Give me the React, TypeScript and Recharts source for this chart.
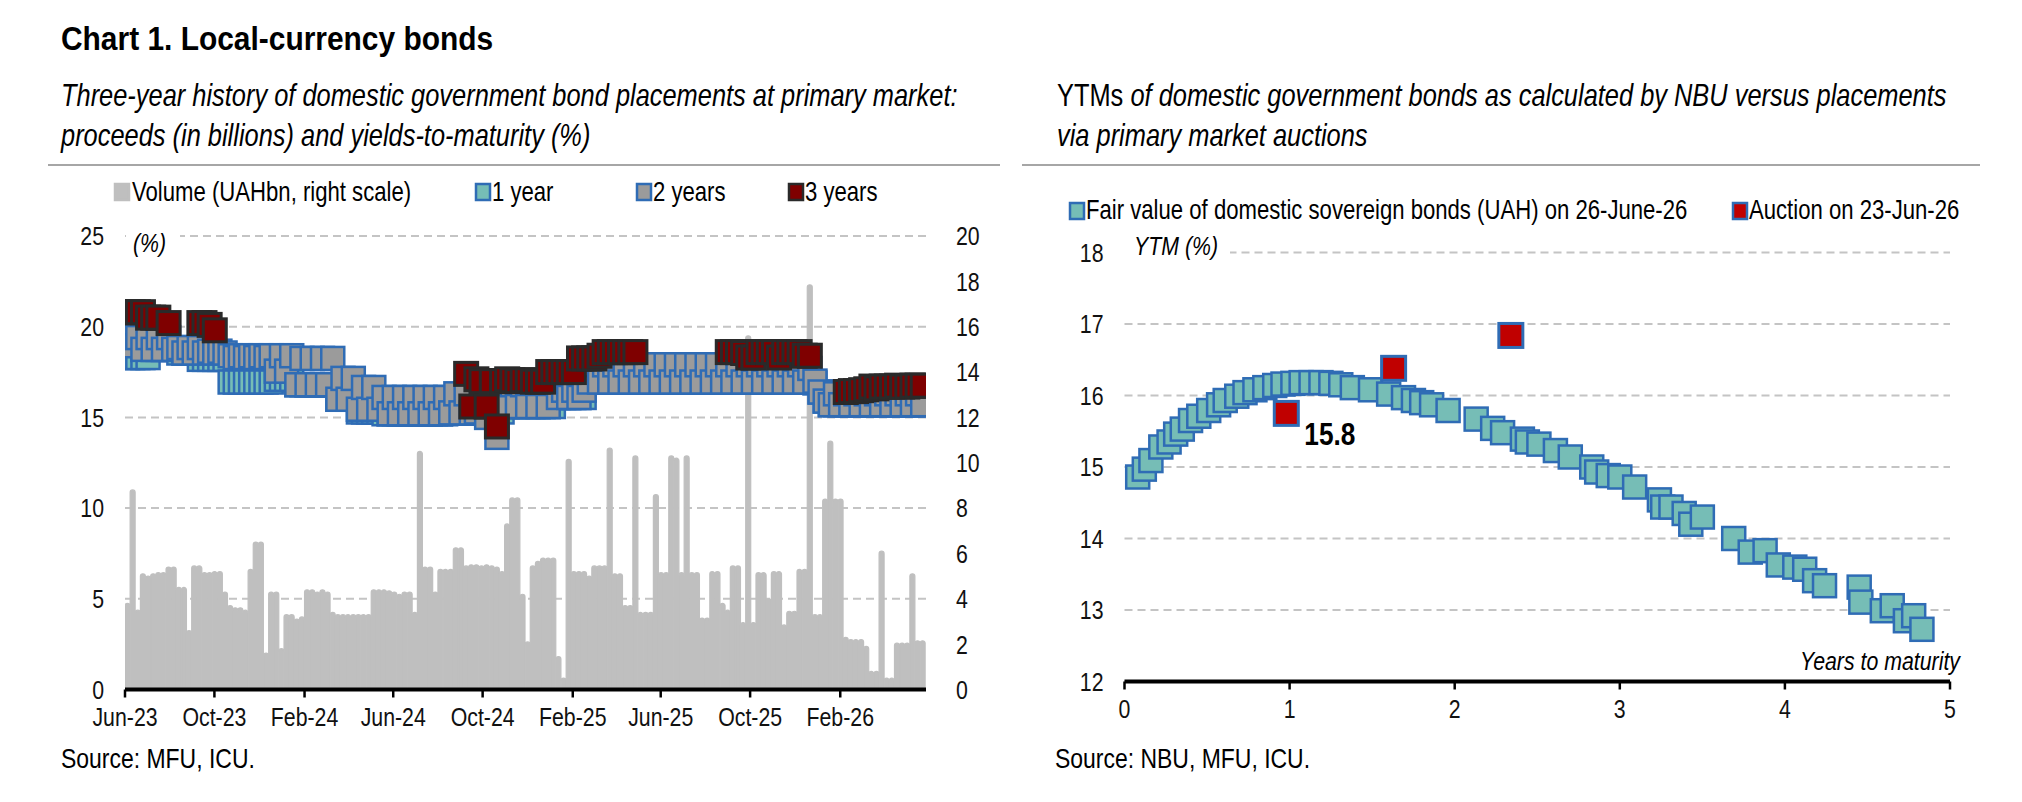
import React from "react";
import { ComposedChart, ScatterChart, Bar, Scatter, XAxis, YAxis, CartesianGrid } from "recharts";

const FONT = "'Liberation Sans', Arial, sans-serif";
const SX = 0.82;

const TEAL = "#76BDB6";
const BLUE = "#2F6CB5";
const GRAY2 = "#9B9B9B";
const DARKRED = "#7F0000";
const DARKBORDER = "#2A2A2A";
const RED = "#C00000";
const VOLGRAY = "#BFBFBF";
const GRID = "#C4C4C4";

// ---------- Left chart: weekly auction history ----------
const axisStart = "2023-06-01";
const axisEnd = "2026-05-29";
const firstWeek = "2023-06-01";
const monthTicks = ["2023-06-01", "2023-10-01", "2024-02-01", "2024-06-01", "2024-10-01", "2025-02-01", "2025-06-01", "2025-10-01", "2026-02-01"];
const monthTickLabels = ["Jun-23", "Oct-23", "Feb-24", "Jun-24", "Oct-24", "Feb-25", "Jun-25", "Oct-25", "Feb-26"];
const leftYTicks = [0, 5, 10, 15, 20, 25];
const rightYTicks = [0, 2, 4, 6, 8, 10, 12, 14, 16, 18, 20];

const volumeUAHbn = [
  3.8, 8.8, 3.5, 5.1, 5.0, 5.1, 5.15, 5.15, 5.4, 5.4,
  4.5, 4.5, 2.6, 5.45, 5.45, 5.15, 5.15, 5.2, 5.2, 4.3,
  3.7, 3.6, 3.6, 3.5, 5.3, 6.5, 6.5, 1.6, 4.3, 4.3,
  1.8, 3.3, 3.3, 3.1, 3.2, 4.4, 4.4, 4.3, 4.4, 4.3,
  3.4, 3.3, 3.3, 3.3, 3.3, 3.3, 3.3, 3.3, 4.4, 4.4,
  4.4, 4.35, 4.3, 4.2, 4.3, 4.3, 3.4, 10.5, 5.4, 5.4,
  4.3, 5.3, 5.3, 5.3, 6.25, 6.25, 5.45, 5.5, 5.5, 5.45,
  5.5, 5.45, 5.4, 5.2, 7.3, 8.45, 8.45, 4.2, 2.1, 5.45,
  5.65, 5.8, 5.8, 5.8, 1.45, 0.5, 10.15, 5.2, 5.2, 5.2,
  5.0, 5.45, 5.45, 5.45, 10.65, 5.1, 5.1, 3.7, 3.7, 10.3,
  3.4, 3.4, 3.4, 8.6, 5.15, 5.15, 10.3, 10.2, 5.15, 10.3,
  5.15, 5.15, 3.15, 3.15, 5.2, 5.2, 3.8, 3.5, 5.45, 5.45,
  2.95, 15.6, 2.95, 5.15, 5.15, 4.0, 5.2, 5.2, 2.85, 3.45,
  3.45, 5.3, 5.3, 17.85, 3.3, 3.3, 8.4, 10.95, 8.4, 8.4,
  2.3, 2.2, 2.2, 2.2, 1.9, 0.8, 0.8, 6.1, 0.5, 0.5,
  2.05, 2.05, 2.05, 5.1, 2.15, 2.15,
];

const yield1y = [
  18.3, 18.3, 18.3, 18.3, 18.3, 18.75, 18.75, 18.75, 18.75, 18.75,
  18.55, 18.55, 18.55, 18.55, 18.2, 18.2, 18.2, 18.2, 18.2, 18.2,
  16.95, 16.95, 16.95, 16.95, 16.95, 16.95, 16.95, 16.95, 16.95, 17.1,
  17.1, 17.1, 17.1, 16.8, 16.8, 16.8, 16.8, 16.8, 16.8, 16.8,
  16.8, 16.0, 16.0, 16.0, 16.0, 15.3, 15.3, 15.3, 15.3, 15.3,
  15.2, 15.2, 15.2, 15.2, 15.2, 15.2, 15.2, 15.2, 15.2, 15.2,
  15.2, 15.2, 15.2, 15.25, 15.25, 15.25, 15.25, 15.25, 15.3, 15.3,
  15.3, 15.3, 15.3, 15.3, 15.6, 15.6, 15.6, 15.6, 15.6, 15.6,
  15.6, 15.6, 15.6, 15.6, 16.1, 16.1, 16.1, 16.1, 16.1, 16.1,
  16.95, 16.95, 16.95, 16.95, 16.95, 16.95, 16.95, 16.95, 16.95, 16.95,
  16.95, 16.95, 16.95, 16.95, 16.95, 16.95, 16.95, 16.95, 16.95, 16.95,
  16.95, 16.95, 16.95, 16.95, 16.95, 16.95, 16.95, 16.95, 16.95, 16.95,
  16.95, 16.95, 16.95, 16.95, 16.95, 16.95, 16.95, 16.95, 16.95, 16.95,
  16.95, 16.95, 16.95, 16.95, 16.9, 16.4, 15.9, 15.7, 15.7, 15.7,
  15.7, 15.7, 15.7, 15.7, 15.7, 15.7, 15.7, 15.7, 15.7, 15.7,
  15.7, 15.7, 15.7, 15.7, 15.7, 15.7,
];

const yield2y = [
  19.4, 18.95, 19.4, 18.75, 19.4, 18.75, 19.4, 18.75, 19.4, 18.75,
  18.85, 18.55, 18.85, 18.55, 18.85, 18.55, 18.65, 18.55, 18.65, 18.55,
  18.4, 18.3, 18.4, 18.3, 18.4, 18.3, 18.4, 18.3, 18.4, 17.55,
  18.4, 17.55, 18.4, 16.8, 18.25, 16.8, 18.25, 16.8, 18.25, 16.8,
  18.25, 16.0, 17.15, 16.0, 17.15, 15.45, 16.65, 15.45, 16.65, 15.45,
  16.1, 15.2, 16.1, 15.2, 16.1, 15.2, 16.1, 15.2, 16.1, 15.2,
  16.1, 15.2, 16.1, 15.25, 16.3, 15.25, 16.3, 15.25, 15.3, 16.3,
  15.0, 16.2, 13.9, 16.2, 15.6, 16.8, 15.6, 16.8, 15.6, 17.0,
  15.6, 17.0, 15.6, 17.0, 16.1, 16.5, 16.1, 16.5, 16.1, 16.5,
  16.95, 17.9, 16.95, 17.9, 16.95, 17.9, 16.95, 17.9, 16.95, 17.9,
  16.95, 17.9, 16.95, 17.9, 16.95, 17.9, 16.95, 17.9, 16.95, 17.9,
  16.95, 17.9, 16.95, 17.9, 16.95, 17.9, 16.95, 17.9, 16.95, 17.9,
  16.95, 17.9, 16.95, 17.9, 16.95, 17.9, 16.95, 17.9, 16.95, 17.9,
  16.95, 17.9, 16.95, 17.7, 17.0, 16.4, 15.9, 15.7, 16.3, 15.7,
  16.3, 15.7, 16.3, 15.7, 16.3, 15.7, 16.3, 15.7, 16.3, 15.7,
  16.3, 15.7, 16.3, 15.7, 16.3, 15.7,
];

const yield3y = [
  20.8, 20.8, 20.8, 20.8, 20.5, 20.5, 20.5, null, 20.2, null,
  null, null, null, null, 20.2, 20.2, 20.1, 19.8, null, null,
  null, null, null, null, null, null, null, null, null, null,
  null, null, null, null, null, null, null, null, null, null,
  null, null, null, null, null, null, null, null, null, null,
  null, null, null, null, null, null, null, null, null, null,
  null, null, null, null, null, null, 17.4, 15.6, 17.1, 17.0,
  15.6, 17.0, 14.5, 17.0, 17.1, 17.05, 17.0, 17.05, 17.05, 16.97,
  16.97, 16.97, 17.5, 17.5, 17.5, 17.5, 17.5, 17.5, 18.25, 18.25,
  18.25, 18.25, 18.4, 18.6, 18.6, 18.6, 18.6, 18.6, 18.6, 18.6,
  null, null, null, null, null, null, null, null, null, null,
  null, null, null, null, null, null, null, 18.6, 18.6, 18.6,
  18.55, 18.3, 18.3, 18.6, 18.6, 18.6, 18.6, 18.3, 18.6, 18.6,
  18.6, 18.6, 18.4, 18.4, null, null, null, null, null, null,
  16.4, 16.45, 16.45, 16.5, 16.55, 16.7, 16.6, 16.7, 16.7, 16.7,
  16.75, 16.7, 16.7, 16.75, 16.75, 16.75,
];

// ---------- Right chart: yield curve ----------
const fairYears = [
  0.08, 0.12, 0.16, 0.22, 0.27, 0.31, 0.35, 0.40, 0.45, 0.51, 0.57, 0.61, 0.68, 0.73, 0.79, 0.85, 0.91, 0.96,
  1.02, 1.07, 1.13, 1.19, 1.25, 1.31, 1.38, 1.49, 1.60, 1.69, 1.75, 1.80, 1.86, 1.96, 2.13, 2.23, 2.29, 2.41,
  2.44, 2.51, 2.61, 2.70, 2.83, 2.86, 2.93, 3.00, 3.09, 3.24, 3.26, 3.31, 3.39, 3.43, 3.50, 3.69, 3.79, 3.88,
  3.96, 4.06, 4.12, 4.18, 4.24, 4.45, 4.46, 4.59, 4.65, 4.73, 4.78, 4.83,
];
const fairYtm = [
  14.86, 14.97, 15.09, 15.28, 15.35, 15.46, 15.53, 15.65, 15.71, 15.79, 15.87, 15.93, 15.99, 16.04, 16.08, 16.11, 16.14, 16.16,
  16.17, 16.18, 16.18, 16.18, 16.17, 16.15, 16.11, 16.08, 16.02, 15.97, 15.93, 15.90, 15.87, 15.79, 15.67, 15.54, 15.48, 15.39,
  15.35, 15.32, 15.23, 15.14, 15.00, 14.93, 14.88, 14.86, 14.72, 14.54, 14.44, 14.44, 14.35, 14.20, 14.30, 14.00, 13.81, 13.83,
  13.63, 13.60, 13.57, 13.41, 13.34, 13.32, 13.11, 12.99, 13.06, 12.85, 12.92, 12.73,
];
const auctionYears = [0.98, 1.63, 2.34];
const auctionYtm = [15.75, 16.38, 16.84];
const auctionLabels = ["15.8", "", ""];
const maturityTicks = [0, 1, 2, 3, 4, 5];
const ytmTicks = [12, 13, 14, 15, 16, 17, 18];

// ---------- helpers ----------
const DAY = 86400000;
const dayOf = (s: string) => (Date.parse(s) - Date.parse(axisStart)) / DAY;
const firstWeekDay = dayOf(firstWeek);
const weekCenter = (i: number) => firstWeekDay + 7 * i + 3.5;
const tickDays = monthTicks.map(dayOf);
const endDay = dayOf(axisEnd);

const volumeRows = volumeUAHbn.map((v, i) => ({ day: weekCenter(i), vol: v }));
const seriesRows = (arr: (number | null)[]) =>
  arr.map((v, i) => ({ day: weekCenter(i), y: v })).filter((d) => d.y !== null && d.y !== undefined);
const rows1y = seriesRows(yield1y);
const rows2y = seriesRows(yield2y);
const rows3y = seriesRows(yield3y);

const fairRows = fairYears.map((x, i) => ({ x, y: fairYtm[i] }));
const auctionRows = auctionYears.map((x, i) => ({ x, y: auctionYtm[i], label: auctionLabels[i] }));

// narrow (condensed) text: Liberation Sans squeezed horizontally
const NT = ({ x, y, size, bold, italic, anchor, sx = SX, children }: any) => (
  <text
    transform={`translate(${x} ${y}) scale(${sx} 1)`}
    fontFamily={FONT}
    fontSize={size}
    fontWeight={bold ? "bold" : "normal"}
    fontStyle={italic ? "italic" : "normal"}
    textAnchor={anchor || "start"}
    fill="#000"
  >
    {children}
  </text>
);

const squareShape = (fill: string, stroke: string, side: number, sw: number) => (props: any) => {
  const { cx, cy, payload } = props;
  if (!Number.isFinite(cx) || !Number.isFinite(cy)) return <g />;
  return (
    <g>
      <rect x={cx - side / 2} y={cy - side / 2} width={side} height={side} fill={fill} stroke={stroke} strokeWidth={sw} />
      {payload && payload.label ? (
        <NT x={cx + 18} y={cy + 32} size={32} bold>
          {payload.label}
        </NT>
      ) : null}
    </g>
  );
};

const makeTick = (fmt: (v: any) => string) => (props: any) => {
  const { x, y, payload, textAnchor, verticalAnchor } = props;
  const dy = verticalAnchor === "start" ? "0.72em" : verticalAnchor === "end" ? "0" : "0.36em";
  return (
    <g transform={`translate(${x} ${y})`}>
      <text transform={`scale(${SX} 1)`} x={0} y={0} dy={dy} textAnchor={textAnchor} fontFamily={FONT} fontSize={26} fill="#111">
        {fmt(payload.value)}
      </text>
    </g>
  );
};

const monthLabel = (v: number) => {
  const idx = tickDays.findIndex((t) => Math.abs(t - v) < 0.5);
  return idx >= 0 ? monthTickLabels[idx] : "";
};
const plainLabel = (v: any) => String(v);

export default function App() {
  return (
    <div style={{ position: "absolute", left: 0, top: 0, width: 2022, height: 802, background: "#fff", overflow: "hidden" }}>
      {/* Left chart */}
      <div style={{ position: "absolute", left: 0, top: 220 }}>
        <ComposedChart
          width={1000}
          height={520}
          data={volumeRows}
          margin={{ top: 16, right: 14, bottom: 10.5, left: 65 }}
          barCategoryGap={0}
          barGap={0}
        >
          <CartesianGrid xAxisId="t" yAxisId="l" vertical={false} stroke={GRID} strokeDasharray="8 5" strokeWidth={2} />
          <XAxis
            xAxisId="t"
            dataKey="day"
            type="number"
            domain={[0, endDay]}
            allowDataOverflow
            ticks={tickDays}
            interval={0}
            tickFormatter={monthLabel}
            height={40}
            axisLine={{ stroke: "#000", strokeWidth: 4 }}
            tickLine={{ stroke: "#000", strokeWidth: 2.5 }}
            tickSize={8}
            tickMargin={10}
            tick={makeTick(monthLabel)}
          />
          <XAxis xAxisId="s" dataKey="day" type="number" domain={[0, endDay]} allowDataOverflow hide height={0} />
          <YAxis
            yAxisId="l"
            domain={[0, 25]}
            ticks={leftYTicks}
            interval={0}
            width={60}
            axisLine={false}
            tickLine={false}
            tickSize={0}
            tickMargin={21}
            tick={makeTick(plainLabel)}
          />
          <YAxis
            yAxisId="r"
            orientation="right"
            domain={[0, 20]}
            ticks={rightYTicks}
            interval={0}
            width={60}
            axisLine={false}
            tickLine={false}
            tickSize={0}
            tickMargin={30}
            tick={makeTick(plainLabel)}
          />
          <Bar
            xAxisId="t"
            yAxisId="r"
            dataKey="vol"
            fill={VOLGRAY}
            stroke={VOLGRAY}
            strokeWidth={1.2}
            radius={[2.5, 2.5, 0, 0]}
            isAnimationActive={false}
          />
          <Scatter xAxisId="s" yAxisId="l" data={rows1y} dataKey="y" shape={squareShape(TEAL, BLUE, 23, 2.5)} isAnimationActive={false} />
          <Scatter xAxisId="s" yAxisId="l" data={rows2y} dataKey="y" shape={squareShape(GRAY2, BLUE, 23, 2.5)} isAnimationActive={false} />
          <Scatter xAxisId="s" yAxisId="l" data={rows3y} dataKey="y" shape={squareShape(DARKRED, DARKBORDER, 23, 3)} isAnimationActive={false} />
        </ComposedChart>
      </div>

      {/* Right chart */}
      <div style={{ position: "absolute", left: 1000, top: 230 }}>
        <ScatterChart width={1010} height={500} margin={{ top: 22.5, right: 60, bottom: 8.5, left: 64.5 }}>
          <CartesianGrid vertical={false} stroke={GRID} strokeDasharray="8 5" strokeWidth={2} />
          <XAxis
            dataKey="x"
            type="number"
            domain={[0, 5]}
            ticks={maturityTicks}
            interval={0}
            height={40}
            axisLine={{ stroke: "#000", strokeWidth: 4 }}
            tickLine={{ stroke: "#000", strokeWidth: 2.5 }}
            tickSize={8}
            tickMargin={10}
            tick={makeTick(plainLabel)}
          />
          <YAxis
            dataKey="y"
            type="number"
            domain={[12, 18]}
            ticks={ytmTicks}
            interval={0}
            width={60}
            axisLine={false}
            tickLine={false}
            tickSize={0}
            tickMargin={21}
            tick={makeTick(plainLabel)}
          />
          <Scatter data={fairRows} shape={squareShape(TEAL, BLUE, 23, 2.5)} isAnimationActive={false} />
          <Scatter data={auctionRows} shape={squareShape(RED, BLUE, 24, 3)} isAnimationActive={false} />
        </ScatterChart>
      </div>

      {/* Text overlay */}
      <svg width={2022} height={802} style={{ position: "absolute", left: 0, top: 0, pointerEvents: "none" }}>
        <NT x={61} y={50} size={34} bold sx={0.88}>Chart 1. Local-currency bonds</NT>
        <NT x={61} y={106} size={31} italic>Three-year history of domestic government bond placements at primary market:</NT>
        <NT x={61} y={146} size={31} italic>proceeds (in billions) and yields-to-maturity (%)</NT>
        <line x1={48} x2={1000} y1={165} y2={165} stroke="#A6A6A6" strokeWidth={2} />

        <NT x={1057} y={106} size={31}>
          <tspan>YTMs</tspan>
          <tspan fontStyle="italic"> of domestic government bonds as calculated by NBU versus placements</tspan>
        </NT>
        <NT x={1057} y={146} size={31} italic>via primary market auctions</NT>
        <line x1={1022} x2={1980} y1={165} y2={165} stroke="#A6A6A6" strokeWidth={2} />

        {/* left legend */}
        <rect x={115} y={184} width={14} height={16} fill={VOLGRAY} stroke={VOLGRAY} strokeWidth={2.5} />
        <NT x={132} y={201} size={27}>Volume (UAHbn, right scale)</NT>
        <rect x={476} y={184} width={14} height={16} fill={TEAL} stroke={BLUE} strokeWidth={2.5} />
        <NT x={492} y={201} size={27}>1 year</NT>
        <rect x={637} y={184} width={14} height={16} fill={GRAY2} stroke={BLUE} strokeWidth={2.5} />
        <NT x={653} y={201} size={27}>2 years</NT>
        <rect x={789} y={184} width={14} height={16} fill={DARKRED} stroke={DARKBORDER} strokeWidth={2.5} />
        <NT x={805} y={201} size={27}>3 years</NT>

        {/* right legend */}
        <rect x={1070} y={203} width={14} height={16} fill={TEAL} stroke={BLUE} strokeWidth={2.5} />
        <NT x={1086} y={219} size={27}>Fair value of domestic sovereign bonds (UAH) on 26-June-26</NT>
        <rect x={1733} y={203} width={14} height={16} fill={RED} stroke={BLUE} strokeWidth={2.5} />
        <NT x={1749} y={219} size={27}>Auction on 23-Jun-26</NT>

        {/* axis titles */}
        <rect x={126} y={226} width={54} height={34} fill="#fff" />
        <NT x={133} y={252} size={26} italic>(%)</NT>
        <rect x={1124} y={236} width={106} height={30} fill="#fff" />
        <NT x={1134} y={255} size={26} italic>YTM (%)</NT>
        <NT x={1960} y={670} size={26} italic anchor="end">Years to maturity</NT>

        {/* sources */}
        <NT x={61} y={768} size={28}>Source: MFU, ICU.</NT>
        <NT x={1055} y={768} size={28}>Source: NBU, MFU, ICU.</NT>
      </svg>
    </div>
  );
}
